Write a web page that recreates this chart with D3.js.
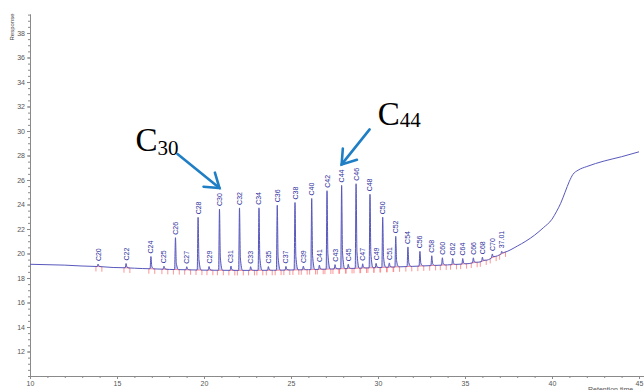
<!DOCTYPE html>
<html>
<head>
<meta charset="utf-8">
<script src="https://cdn.jsdelivr.net/npm/d3@7"></script>
<style>
  html, body { margin: 0; padding: 0; background: #fff; }
  svg { display: block; }
</style>
</head>
<body>
<div id="chart"></div>
<script>
// integrated peaks: label, retention time (min), height above baseline (response)
const peakLabels = ['C20','C22','C24','C25','C26','C27','C28','C29','C30','C31','C32','C33','C34','C35',
  'C36','C37','C38','C39','C40','C41','C42','C43','C44','C45','C46','C47','C48','C49','C50','C51','C52',
  'C54','C56','C58','C60','C62','C64','C66','C68','C70','37.01'];
const peakTimes = [13.91,15.52,16.95,17.70,18.36,19.01,19.66,20.29,20.89,21.55,22.04,22.68,23.16,23.70,
  24.21,24.71,25.23,25.71,26.19,26.63,27.07,27.53,27.91,28.29,28.74,29.12,29.54,29.89,30.27,30.65,31.02,
  31.72,32.41,33.09,33.70,34.29,34.87,35.48,36.00,36.57,37.11];
const peakHeights = [0.2,0.35,1.0,0.25,2.6,0.25,4.3,0.3,5.0,0.35,5.1,0.3,5.1,0.3,
  5.3,0.3,5.5,0.3,5.8,0.35,6.4,0.35,6.8,0.35,6.9,0.35,6.0,0.35,4.1,0.35,2.5,
  1.6,1.2,0.8,0.6,0.5,0.45,0.4,0.35,0.3,0.2];

// baseline of the trace (column bleed at the end)
const baseTimes = [10,12,14,16,18,20,22,24,26,28,30,32,34,35,36,37,38,39,39.5,40,40.25,40.5,40.75,41,41.2,
  41.5,42,43,44,45];
const baseValues = [19.12,19.05,18.93,18.8,18.7,18.64,18.62,18.63,18.68,18.76,18.85,18.95,19.07,19.15,
  19.35,19.9,20.6,21.5,22.1,22.8,23.4,24.1,25.0,25.9,26.45,26.8,27.1,27.55,27.9,28.3];

// axis ticks
const xTicks = [10,15,20,25,30,35,40,45];
const yTicks = [12,14,16,18,20,22,24,26,28,30,32,34,36,38];

// callouts
const callouts = [
  { peak: 'C30', sub: '30' },
  { peak: 'C44', sub: '44' }
];

const width = 644;
const height = 390;

const x = d3.scaleLinear().domain([10, 45]).range([30, 639]);
const y = d3.scaleLinear().domain([10, 39.55]).range([376, 14]);
// piecewise linear baseline lookup
const baseAt = d3.scaleLinear().domain(baseTimes).range(baseValues);

const peaks = peakLabels.map((label, i) => ({
  label,
  t: peakTimes[i],
  h: peakHeights[i],
  base: baseAt(peakTimes[i])
}));

const w = 0.05;
// shape of one peak: front foot, apex, tail, back foot
function peakPoints(p) {
  return [
    [p.t - w, baseAt(p.t - w)],
    [p.t, p.base + p.h],
    [p.t + w, baseAt(p.t + w) + p.h * 0.2],
    [p.t + w * 3.5, baseAt(p.t + w * 3.5)]
  ];
}

let pts = [];
peaks.forEach(p => { pts = pts.concat(peakPoints(p)); });
baseTimes.forEach((t, i) => {
  if (!peaks.some(p => t > p.t - 0.1 && t < p.t + 0.25)) pts.push([t, baseValues[i]]);
});
pts.sort((a, b) => a[0] - b[0]);

const svg = d3.select('#chart')
  .append('svg')
  .attr('width', width)
  .attr('height', height)
  .attr('viewBox', `0 0 ${width} ${height}`)
  .style('font-family', '"Liberation Sans", Arial, sans-serif');

// axes
const axisColour = '#8a8a8a';

function styleAxis(g) {
  g.selectAll('.domain').attr('stroke', axisColour);
  g.selectAll('.tick line').attr('stroke', axisColour);
  g.selectAll('.tick text').attr('fill', '#555').style('font-size', '7px');
}

svg.append('g')
  .attr('transform', 'translate(30,0)')
  .call(d3.axisLeft(y).tickValues(d3.range(10, 39.6, 0.5)).tickFormat('').tickSize(2).tickSizeOuter(0))
  .call(styleAxis);
svg.append('g')
  .attr('transform', 'translate(30,0)')
  .call(d3.axisLeft(y).tickValues(yTicks).tickSize(3).tickPadding(2).tickSizeOuter(0))
  .call(styleAxis);

svg.append('g')
  .attr('transform', 'translate(0,376)')
  .call(d3.axisBottom(x).tickValues(d3.range(10, 46, 1)).tickFormat('').tickSize(2).tickSizeOuter(0))
  .call(styleAxis);
svg.append('g')
  .attr('transform', 'translate(0,376)')
  .call(d3.axisBottom(x).tickValues(xTicks).tickSize(3).tickPadding(2).tickSizeOuter(0))
  .call(styleAxis);
svg.append('line')
  .attr('x1', 639).attr('x2', 644).attr('y1', 376.5).attr('y2', 376.5)
  .attr('stroke', axisColour);

svg.append('text')
  .attr('transform', 'translate(14,27) rotate(-90)')
  .attr('text-anchor', 'middle')
  .attr('fill', '#444')
  .style('font-size', '6px')
  .text('Response');

// axis title sits on the bottom edge, as in the source
svg.append('text')
  .attr('x', 588).attr('y', 392)
  .attr('fill', '#555')
  .style('font-size', '7px')
  .text('Retention time');

// pale fill under each integrated peak
const peakArea = d3.area()
  .x(d => x(d[0]))
  .y0(d => y(baseAt(d[0])))
  .y1(d => y(d[1]))
  .curve(d3.curveMonotoneX);

svg.append('g')
  .selectAll('path')
  .data(peaks)
  .enter()
  .append('path')
  .attr('d', p => peakArea(peakPoints(p)))
  .attr('fill', '#d2d2f3');

// red integration baselines with start/end marks
svg.append('g')
  .selectAll('path')
  .data(peaks)
  .enter()
  .append('path')
  .attr('d', p => {
    const ts = p.t - 0.12;
    const te = p.t + 0.22;
    const ys = y(baseAt(ts));
    const ye = y(baseAt(te));
    return `M${x(ts)},${ys + 5}V${ys}L${x(te)},${ye}V${ye + 5}`;
  })
  .attr('fill', 'none')
  .attr('stroke', '#ff7a7a')
  .attr('stroke-width', 0.8);

// the trace
const line = d3.line()
  .x(d => x(d[0]))
  .y(d => y(d[1]))
  .curve(d3.curveMonotoneX);

svg.append('path')
  .datum(pts)
  .attr('d', line)
  .attr('fill', 'none')
  .attr('stroke', '#5858bd')
  .attr('stroke-width', 1);

// peak labels
svg.append('g')
  .selectAll('text')
  .data(peaks)
  .enter()
  .append('text')
  .attr('transform', p => `translate(${x(p.t) + 2.5},${y(p.base + p.h) - 3}) rotate(-90)`)
  .attr('fill', '#2e2e9c')
  .style('font-size', '7px')
  .text(p => p.label);

// callout arrows and big labels
const arrowColour = '#1f7ec4';
callouts.forEach((c, i) => {
  const p = peaks.find(d => d.label === c.peak);
  const tip = [x(p.t), y(p.base + p.h) - 3 - 13 - 5];
  const tail = i === 0 ? [tip[0] - 42, tip[1] - 34] : [tip[0] + 28, tip[1] - 35];
  const ang = Math.atan2(tail[1] - tip[1], tail[0] - tip[0]);
  const len = 16;
  const spread = 0.6;
  const g = svg.append('g')
    .attr('stroke', arrowColour)
    .attr('stroke-width', 2.6)
    .attr('stroke-linecap', 'round')
    .attr('fill', 'none');
  g.append('line')
    .attr('x1', tail[0]).attr('y1', tail[1])
    .attr('x2', tip[0]).attr('y2', tip[1]);
  g.append('path')
    .attr('d', `M${tip[0] + len * Math.cos(ang - spread)},${tip[1] + len * Math.sin(ang - spread)}` +
      `L${tip[0]},${tip[1]}` +
      `L${tip[0] + len * Math.cos(ang + spread)},${tip[1] + len * Math.sin(ang + spread)}`);

  const tx = i === 0 ? tail[0] - 42 : tail[0] + 8;
  const ty = i === 0 ? tail[1] - 3 : tail[1] - 4;
  const t = svg.append('text')
    .attr('x', tx).attr('y', ty)
    .attr('fill', '#000')
    .style('font-family', '"Liberation Serif", "Times New Roman", serif')
    .style('font-size', '33px')
    .text('C');
  t.append('tspan')
    .attr('dy', i === 0 ? 4 : 2)
    .style('font-size', '21px')
    .text(c.sub);
});
</script>
</body>
</html>
